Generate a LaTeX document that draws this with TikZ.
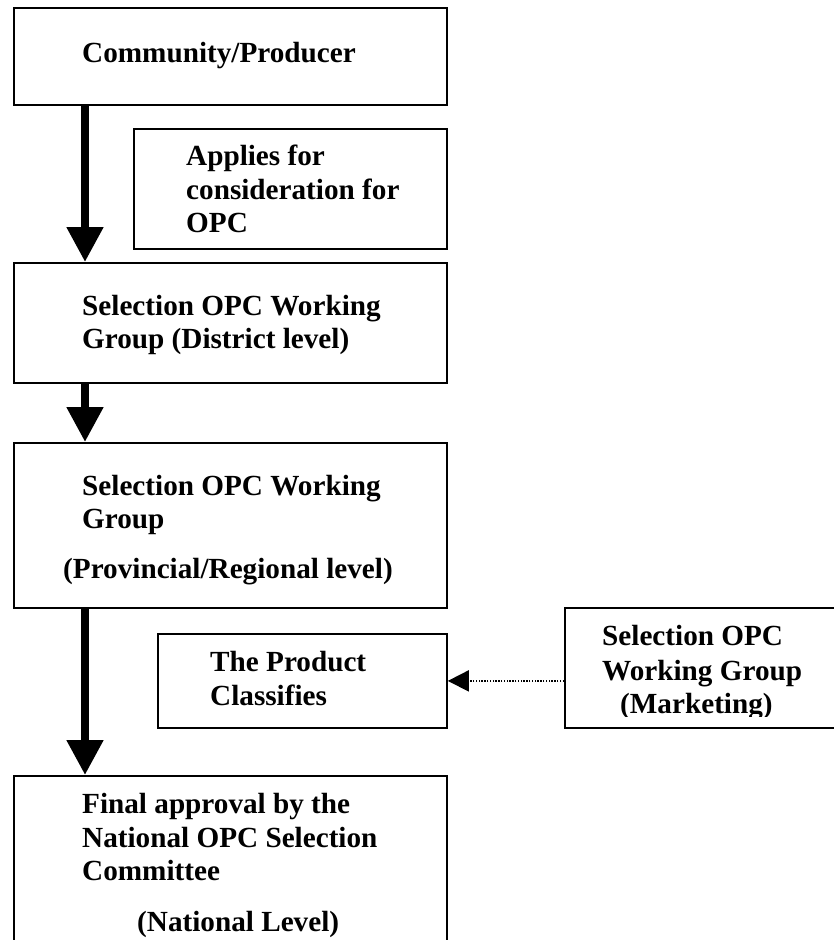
\documentclass[tikz,border=0pt]{standalone}
\usepackage{fontspec}
\setmainfont{Liberation Serif}
\usetikzlibrary{arrows.meta}
\begin{document}
\begin{tikzpicture}[x=1pt,y=-1pt,
  box/.style={draw=black,line width=1.8pt,rectangle,inner sep=0pt,anchor=north west},
  lbl/.style={anchor=base west,inner sep=0pt,font=\fontsize{29.2}{33}\selectfont\bfseries},
  bigarrow/.style={line width=8pt,-{Triangle[length=35pt,width=35pt]}},
  dotarrow/.style={line width=1.8pt,dash pattern=on 1.4pt off 1.4pt,-{Triangle[length=21pt,width=21pt]}}]
\useasboundingbox (0,0) rectangle (834,940);
\clip (0,0) rectangle (834,940);
% boxes
\node[box,minimum width=433pt,minimum height=97pt] (b1) at (13,7) {};
\node[box,minimum width=313pt,minimum height=120pt] (b2) at (133,128) {};
\node[box,minimum width=433pt,minimum height=120pt] (b3) at (13,262) {};
\node[box,minimum width=433pt,minimum height=165pt] (b4) at (13,442) {};
\node[box,minimum width=289pt,minimum height=94pt] (bp) at (157,633) {};
\node[box,minimum width=290pt,minimum height=120pt] (bm) at (564,607) {};
\node[box,minimum width=433pt,minimum height=190pt] (b5) at (13,775) {};
% texts
\node[lbl] (t1) at (82,62) {Community/Producer};
\node[lbl] (t2a) at (186,165) {Applies for};
\node[lbl] (t2b) at (186,199) {consideration for};
\node[lbl] (t2c) at (186,232) {OPC};
\node[lbl] (t3a) at (82,315) {Selection OPC Working};
\node[lbl] (t3b) at (82,348) {Group (District level)};
\node[lbl] (t4a) at (82,495) {Selection OPC Working};
\node[lbl] (t4b) at (82,528) {Group};
\node[lbl] (t4c) at (63,578) {(Provincial/Regional level)};
\node[lbl] (tpa) at (210,671) {The Product};
\node[lbl] (tpb) at (210,705) {Classifies};
\begin{scope}
\clip (564,607) rectangle (834,716);
\node[lbl] (tma) at (602,645) {Selection OPC};
\node[lbl] (tmb) at (602,680) {Working Group};
\node[lbl] (tmc) at (620,713) {(Marketing)};
\end{scope}
\node[lbl] (t5a) at (82,813) {Final approval by the};
\node[lbl] (t5b) at (82,847) {National OPC Selection};
\node[lbl] (t5c) at (82,880) {Committee};
\node[lbl] (t5d) at (137,931) {(National Level)};
% arrows
\draw[bigarrow] ([xshift=72pt]b1.south west) -- ([xshift=72pt]b3.north west);
\draw[bigarrow] ([xshift=72pt]b3.south west) -- ([xshift=72pt]b4.north west);
\draw[bigarrow] ([xshift=72pt]b4.south west) -- ([xshift=72pt]b5.north west);
\draw[dotarrow] (bp.east -| bm.west) -- (bp.east);
\end{tikzpicture}
\end{document}
